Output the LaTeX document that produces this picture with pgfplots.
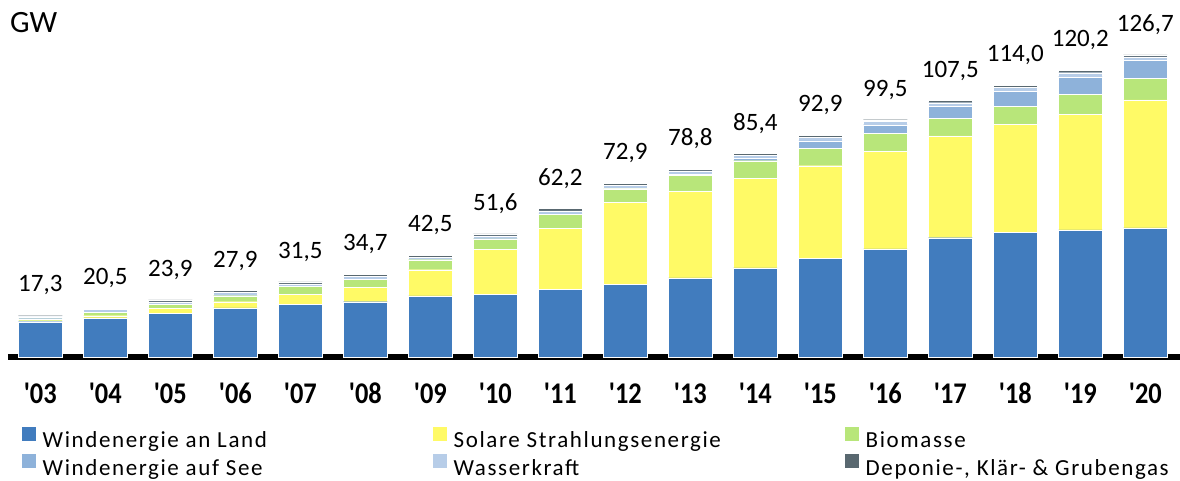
\documentclass[border=0pt]{standalone}
\usepackage{fontspec}
\setmainfont{Carlito}
\newfontfamily\legfont[LetterSpace=7]{Carlito}
\usepackage{pgfplots}
\usepackage{pgfplotstable}
\pgfplotsset{compat=1.18}
\definecolor{cWon}{RGB}{65,124,190}
\definecolor{cSol}{RGB}{255,250,102}
\definecolor{cBio}{RGB}{184,230,122}
\definecolor{cOff}{RGB}{142,178,218}
\definecolor{cHyd}{RGB}{183,205,232}
\definecolor{cGas}{RGB}{89,104,112}
\pgfplotstableread{
x won sol bio off hyd gas lab
0 14.8 0.4 0.8 0 0.8 0.5 17,3
1 16.4 0.9 1.5 0 1.1 0.6 20,5
2 18.2 2.2 1.6 0 1.1 0.8 23,9
3 20.6 2.6 2.5 0 1.3 0.9 27,9
4 22.2 4.2 3.3 0 1.0 0.8 31,5
5 23.2 5.9 3.5 0 1.3 0.8 34,7
6 25.6 11.0 4.2 0 1.0 0.7 42,5
7 26.4 18.8 4.3 0.1 1.2 0.8 51,6
8 28.4 25.6 5.8 0.2 1.3 0.9 62,2
9 30.6 34.2 5.7 0.3 1.3 0.8 72,9
10 33.2 36.2 6.7 0.6 1.3 0.8 78,8
11 37.4 37.6 7.3 0.9 1.3 0.9 85,4
12 41.4 38.8 7.3 3.1 1.4 0.9 92,9
13 45.3 40.9 7.6 3.6 1.3 0.8 99,5
14 50.0 42.7 7.4 5.0 1.5 0.9 107,5
15 52.4 45.1 7.6 6.4 1.6 0.9 114,0
16 53.3 48.5 8.2 7.5 1.7 1.0 120,2
17 54.1 53.7 9.1 7.5 1.4 0.9 126,7
}\data
\newcommand\yl[1]{\scalebox{0.88}[1]{\textquotesingle#1}}
\begin{document}
\begin{tikzpicture}
\path[use as bounding box] (0,0) rectangle (1180pt,481pt);
\node[anchor=base west, inner sep=0pt, font=\fontsize{31}{31}\selectfont] at (10pt,448pt) {GW};
\begin{axis}[
  at={(7.8pt,124pt)}, anchor=south west,
  scale only axis, width=1172pt, height=317pt,
  xmin=-0.5, xmax=17.53, ymin=0, ymax=132.9,
  ybar stacked, bar width=44pt,
  axis line style={draw=none},
  ytick=\empty,
  xtick={0,...,17},
  xticklabels={\yl{03},\yl{04},\yl{05},\yl{06},\yl{07},\yl{08},\yl{09},\yl{10},\yl{11},\yl{12},\yl{13},\yl{14},\yl{15},\yl{16},\yl{17},\yl{18},\yl{19},\yl{20}},
  major tick length=0pt,
  xticklabel style={anchor=base, yshift=-47pt, inner sep=0pt, font=\bfseries\fontsize{30}{30}\selectfont},
  clip=false,
  legend columns=3,
  legend cell align=left,
  legend image code/.code={\fill[#1,draw=none] (0pt,-0.5pt) rectangle (13.5pt,14pt);},
  legend style={at={(0.01212,-0.219)}, anchor=north west, draw=none, fill=none, inner sep=0pt,
    nodes={inner sep=0pt}, row sep=4.5pt,
    /tikz/every odd column/.append style={column sep=7pt},
    font=\legfont\fontsize{23}{23}\selectfont},
  every axis plot/.append style={draw=white, line width=0.3pt},
]
\addplot[fill=cWon] table[x=x,y=won]{\data};
\addplot[fill=cSol] table[x=x,y=sol]{\data};
\addplot[fill=cBio] table[x=x,y=bio]{\data};
\addplot[fill=cOff] table[x=x,y=off]{\data};
\addplot[fill=cHyd] table[x=x,y=hyd]{\data};
\addplot[fill=cGas, nodes near coords, point meta=explicit symbolic,
  nodes near coords style={anchor=center, yshift=31pt, text=black, font=\fontsize{25}{25}\selectfont}]
  table[x=x,y=gas,meta=lab]{\data};
\legend{\makebox[390.5pt][l]{Windenergie an Land},\makebox[391.5pt][l]{Solare Strahlungsenergie},Biomasse,\makebox[390.5pt][l]{Windenergie auf See},\makebox[391.5pt][l]{Wasserkraft},{Deponie-, Klär- \& Grubengas}}
\draw[line width=6pt, black] (axis cs:-0.5,0) -- (axis cs:17.53,0);
\end{axis}
\end{tikzpicture}
\end{document}
